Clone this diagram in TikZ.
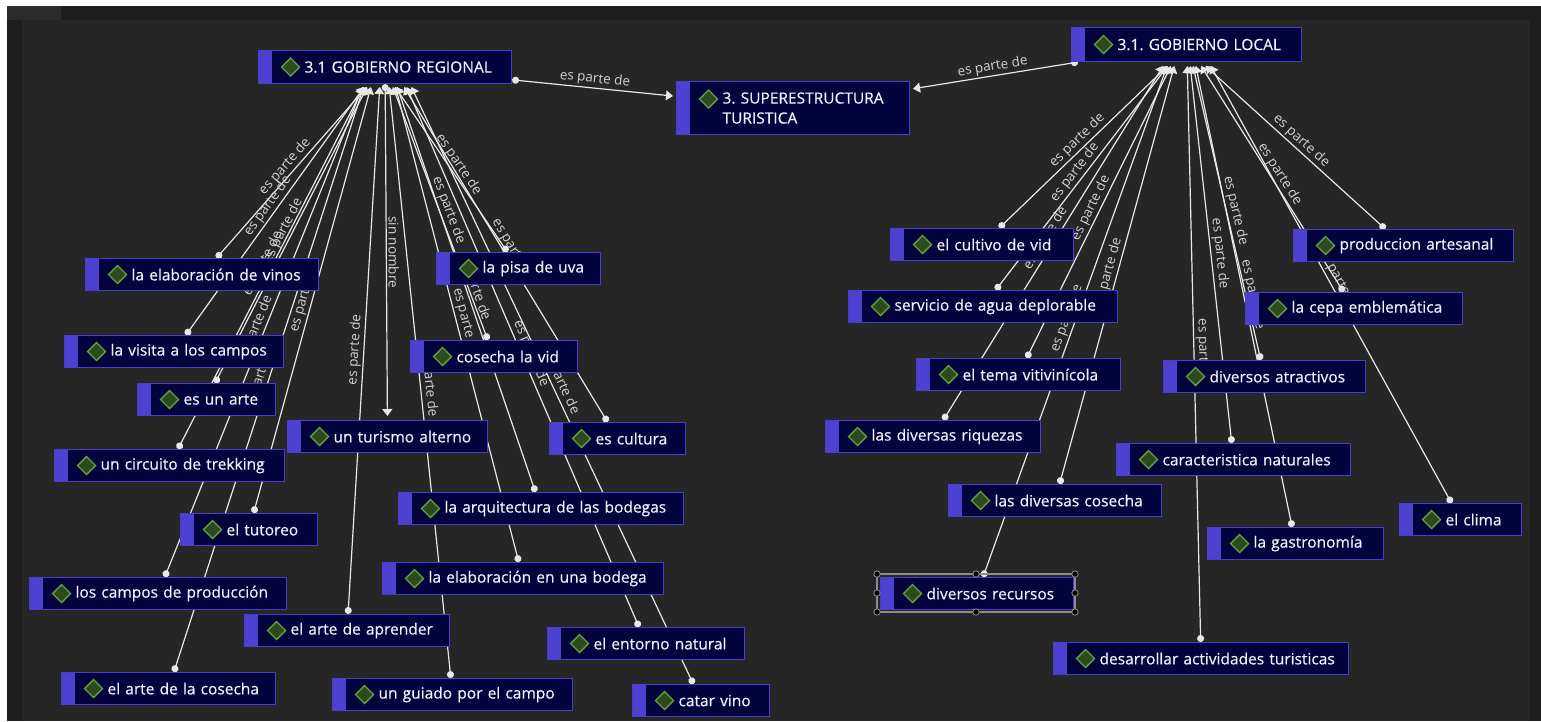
\documentclass[tikz,border=0pt]{standalone}
\usepackage{fontspec}
\setmainfont{Open Sans}
\newfontfamily\boxfont[FakeBold=0.35]{Open Sans}
\frenchspacing
\usetikzlibrary{arrows.meta}
\pgfdeclarelayer{back}
\pgfdeclarelayer{edges}
\pgfsetlayers{back,edges,main}
\definecolor{bgmain}{HTML}{262626}
\definecolor{bgdark}{HTML}{1E1E1E}
\definecolor{bgtab}{HTML}{2C2C2C}
\definecolor{boxfill}{HTML}{03033E}
\definecolor{boxborder}{HTML}{4A3DCB}
\definecolor{stripec}{HTML}{4E41D2}
\definecolor{diafill}{HTML}{2C4A1B}
\definecolor{diaedge}{HTML}{62A03E}
\definecolor{txtc}{HTML}{F2F2FA}
\definecolor{linec}{HTML}{E8E8E8}
\definecolor{lblc}{HTML}{D4D4D4}
\definecolor{selc}{HTML}{8C8C8C}
\begin{document}
\begin{tikzpicture}[x=1pt,y=-1pt,
  diay/.store in=\diay, diay=0pt,
  cbox/.style={draw=boxborder, line width=1.1pt, fill=boxfill, text=txtc,
    font=\boxfont\fontsize{15.5}{20}\selectfont, inner sep=0pt, minimum height=32pt,
    text width=#1, align=left, anchor=north west,
    execute at begin node={\noindent\hspace*{46pt}},
    path picture={
      \fill[stripec] (path picture bounding box.north west) rectangle ([xshift=13pt]path picture bounding box.south west);
      \filldraw[fill=diafill, draw=diaedge, line width=1.3pt]
        ([xshift=32pt, yshift=\diay]path picture bounding box.west) +(0pt,9pt) -- +(9pt,0pt) -- +(0pt,-9pt) -- +(-9pt,0pt) -- cycle;
    }},
  conn/.style={draw=linec, line width=1.2pt, {Circle[length=7pt]}-{Triangle[width=10pt,length=7pt]}},
  lblfont/.style={font=\fontsize{13.5}{15}\selectfont, text=lblc, inner sep=1.5pt},
  lbl/.style={midway, sloped, above, lblfont},
  selhandle/.style={fill=black, draw=selc, line width=0.8pt}
]
\useasboundingbox (0,0) rectangle (1541,721);
\begin{pgfonlayer}{back}
\fill[white] (0,0) rectangle (1541,721);
\fill[bgdark] (7,6) rectangle (1541,721);
\fill[bgtab] (7,6) rectangle (61,20);
\fill[bgmain] (22,20) rectangle (1530,721);
\end{pgfonlayer}

% top nodes
\node[cbox=253pt, minimum height=33pt] (gr) at (258,50) {3.1 GOBIERNO REGIONAL};
\node[cbox=233pt, minimum height=53pt, diay=9pt] (sup) at (676,81) {3. SUPERESTRUCTURA\\\hspace*{46pt}TURISTICA};
\node[cbox=230pt, minimum height=34pt] (loc) at (1071,27) {3.1. GOBIERNO LOCAL};

% left children
\node[cbox=233pt] (elabvinos) at (85,258) {la elaboración de vinos};
\node[cbox=219pt] (visita) at (64,335) {la visita a los campos};
\node[cbox=138pt] (esunarte) at (137,383) {es un arte};
\node[cbox=230pt] (trekking) at (54,449) {un circuito de trekking};
\node[cbox=137pt] (tutoreo) at (180,513) {el tutoreo};
\node[cbox=257pt] (camposprod) at (29,577) {los campos de producción};
\node[cbox=214pt] (artecosecha) at (61,672) {el arte de la cosecha};
\node[cbox=205pt] (arteaprender) at (244,614) {el arte de aprender};
\node[cbox=240pt] (guiado) at (332,678) {un guiado por el campo};
\node[cbox=200pt] (turismo) at (287,420) {un turismo alterno};
\node[cbox=164pt] (pisa) at (436,252) {la pisa de uva};
\node[cbox=167pt] (cosechavid) at (410,340) {cosecha la vid};
\node[cbox=136pt] (cultura) at (549,422) {es cultura};
\node[cbox=285pt] (arquitectura) at (398,492) {la arquitectura de las bodegas};
\node[cbox=281pt] (elabbodega) at (382,562) {la elaboración en una bodega};
\node[cbox=197pt] (entorno) at (547,627) {el entorno natural};
\node[cbox=137pt] (catar) at (632,684) {catar vino};

% right children
\node[cbox=183pt] (cultivo) at (890,228) {el cultivo de vid};
\node[cbox=269pt] (servicio) at (848,290) {servicio de agua deplorable};
\node[cbox=204pt] (tema) at (916,358) {el tema vitivinícola};
\node[cbox=215pt] (riquezas) at (825,420) {las diversas riquezas};
\node[cbox=213pt] (dcosecha) at (948,484) {las diversas cosecha};
\node[cbox=193pt] (recursos) at (880,577) {diversos recursos};
\node[cbox=217pt] (cepa) at (1245,292) {la cepa emblemática};
\node[cbox=220pt] (produccion) at (1293,229) {produccion artesanal};
\node[cbox=202pt] (atractivos) at (1163,360) {diversos atractivos};
\node[cbox=234pt] (caracteristica) at (1116,443) {caracteristica naturales};
\node[cbox=122pt] (clima) at (1399,503) {el clima};
\node[cbox=176pt] (gastronomia) at (1207,527) {la gastronomía};
\node[cbox=295pt] (desarrollar) at (1053,642) {desarrollar actividades turisticas};

% selection frame
\draw[selc, line width=2pt] (877,574) rectangle (1075,612);
\foreach \p in {(877,574),(976,574),(1075,574),(877,593),(1075,593),(877,612),(976,612),(1075,612)}
  \filldraw[selhandle] \p circle (3.2pt);

% arrow targets on the parents
\coordinate (t-elabvinos) at (366.7,87);
\coordinate (t-visita) at (364.1,87);
\coordinate (t-esunarte) at (367.1,87);
\coordinate (t-trekking) at (363.7,87);
\coordinate (t-tutoreo) at (370.9,87);
\coordinate (t-camposprod) at (362.7,87);
\coordinate (t-artecosecha) at (363.6,87);
\coordinate (t-arteaprender) at (379.7,87);
\coordinate (t-guiado) at (389.2,87);
\coordinate (t-pisa) at (395.2,87);
\coordinate (t-cosechavid) at (392.9,87);
\coordinate (t-cultura) at (404.1,87);
\coordinate (t-arquitectura) at (397.2,87);
\coordinate (t-elabbodega) at (395.6,87);
\coordinate (t-entorno) at (406.6,87);
\coordinate (t-catar) at (411.4,87);

\coordinate (t-cultivo) at (1167.6,66);
\coordinate (t-servicio) at (1167.7,66);
\coordinate (t-tema) at (1170.9,66);
\coordinate (t-riquezas) at (1163.2,66);
\coordinate (t-dcosecha) at (1174.2,66);
\coordinate (t-recursos) at (1167.1,66);
\coordinate (t-cepa) at (1201.1,66);
\coordinate (t-produccion) at (1205.5,66);
\coordinate (t-atractivos) at (1193.0,66);
\coordinate (t-caracteristica) at (1190.2,66);
\coordinate (t-clima) at (1210.7,66);
\coordinate (t-gastronomia) at (1195.8,66);
\coordinate (t-desarrollar) at (1187.3,66);

\begin{pgfonlayer}{edges}
\draw[conn, shorten >=3pt] (gr) -- (sup) node[lbl]{es parte de};
\draw[conn, shorten >=3pt] (loc) -- (sup) node[lbl]{es parte de};
\draw[conn, shorten >=4pt] (gr) -- (turismo) node[midway, rotate=-90, above, lblfont]{sin nombre};
\foreach \c in {elabvinos,visita,esunarte,trekking,tutoreo,camposprod,artecosecha,arteaprender,guiado,pisa,cosechavid,cultura,arquitectura,elabbodega,entorno,catar,
  cultivo,servicio,tema,riquezas,dcosecha,recursos,cepa,produccion,atractivos,caracteristica,clima,gastronomia,desarrollar}
  \draw[conn] (\c) -- (t-\c) node[lbl]{es parte de};
\end{pgfonlayer}
\end{tikzpicture}
\end{document}
